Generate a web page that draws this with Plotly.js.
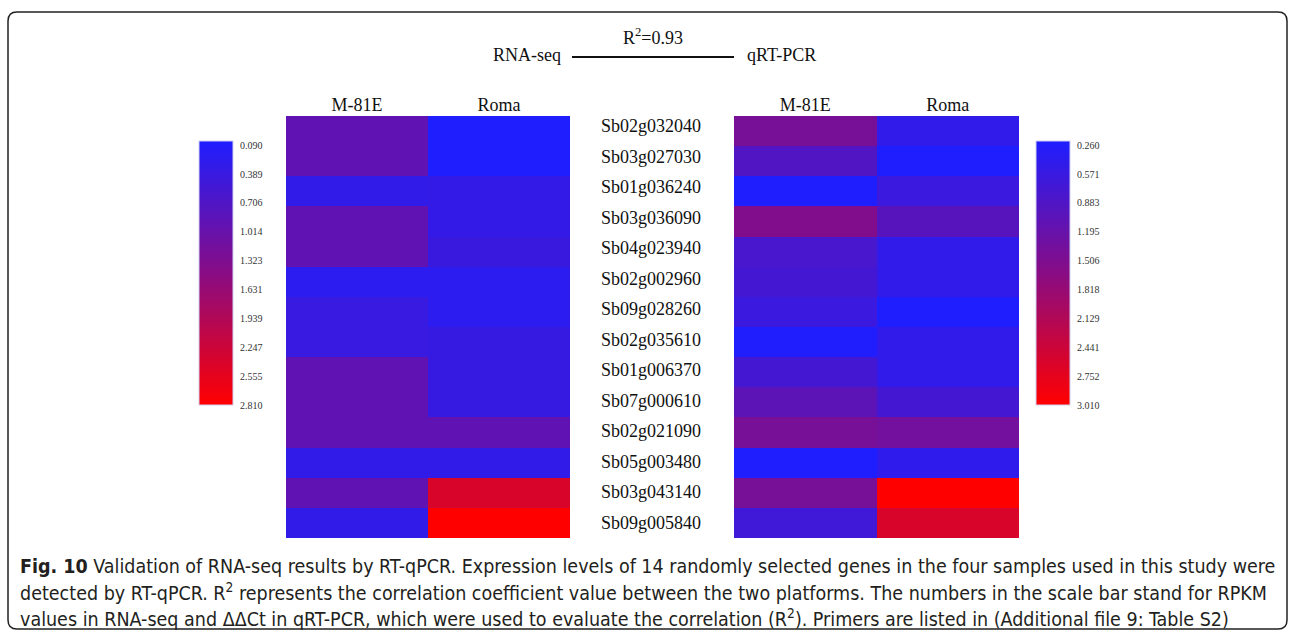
<!DOCTYPE html>
<html>
<head>
<meta charset="utf-8">
<script src="https://cdn.plot.ly/plotly-3.0.1.min.js"></script>
<style>html,body{margin:0;padding:0;background:#fff;}#chart{width:1290px;height:635px;}</style>
</head>
<body>
<div id="chart"></div>
<script>
// ---- data ----
const genes = ['Sb02g032040','Sb03g027030','Sb01g036240','Sb03g036090','Sb04g023940','Sb02g002960','Sb09g028260','Sb02g035610','Sb01g006370','Sb07g000610','Sb02g021090','Sb05g003480','Sb03g043140','Sb09g005840'];
const samples = ['M-81E','Roma'];
const rnaM81E = [0.94,0.94,0.33,0.94,0.94,0.27,0.43,0.43,0.94,0.94,0.94,0.33,0.94,0.33];
const rnaRoma = [0.09,0.09,0.36,0.36,0.45,0.27,0.27,0.41,0.41,0.41,0.94,0.33,2.38,2.81];
const qpcrM81E = [1.42,0.93,0.26,1.55,0.81,0.75,0.63,0.28,0.75,1.06,1.42,0.27,1.42,0.70];
const qpcrRoma = [0.50,0.26,0.63,1.00,0.50,0.50,0.26,0.50,0.50,0.75,1.36,0.48,3.01,2.57];
const rnaTicks = ['0.090','0.389','0.706','1.014','1.323','1.631','1.939','2.247','2.555','2.810'];
const qpcrTicks = ['0.260','0.571','0.883','1.195','1.506','1.818','2.129','2.441','2.752','3.010'];
const rnaRange = [0.09, 2.81];
const qpcrRange = [0.26, 3.01];
const captionLines = [
  '<b>Fig. 10</b> Validation of RNA-seq results by RT-qPCR. Expression levels of 14 randomly selected genes in the four samples used in this study were',
  'detected by RT-qPCR. R<sup>2</sup> represents the correlation coefficient value between the two platforms. The numbers in the scale bar stand for RPKM',
  'values in RNA-seq and \u0394\u0394Ct in qRT-PCR, which were used to evaluate the correlation (R<sup>2</sup>). Primers are listed in (Additional file 9: Table S2)'
];

// ---- helpers ----
const W = 1290, H = 635;
const px = x => x / W;
const py = y => 1 - y / H;
const serif = 'Liberation Serif, Times New Roman, serif';
const scale = [[0,'rgb(255,0,0)'],[0.5,'rgb(136,12,132)'],[1,'rgb(30,30,255)']];

function zmat(a, b) { return genes.map((g, i) => [-a[i], -b[i]]); }
function tickPos(labels, range) {
  const n = labels.length;
  const top = range[0] + (range[1] - range[0]) * 0.016;  // small inset at the top of the bar
  return labels.map((_, i) => -(top + (range[1] - top) * i / (n - 1)));
}

function heat(a, b, range, ticks, xa, ya, cbx) {
  return {
    type: 'heatmap', x: samples, y: genes, z: zmat(a, b),
    xaxis: xa, yaxis: ya,
    zmin: -range[1], zmax: -range[0],
    colorscale: scale, hoverinfo: 'skip',
    colorbar: {
      x: cbx, xanchor: 'left', xref: 'paper', y: py(141), yanchor: 'top', yref: 'paper',
      len: 264, lenmode: 'pixels', thickness: 34, thicknessmode: 'pixels',
      xpad: 0, ypad: 0, outlinewidth: 1, outlinecolor: '#d0d0f0',
      tickvals: tickPos(ticks, range), ticktext: ticks, ticks: 'outside', ticklen: 5,
      tickcolor: 'rgba(0,0,0,0)', tickwidth: 0,
      tickfont: {family: serif, size: 10, color: '#333'}
    }
  };
}

const traces = [
  heat(rnaM81E, rnaRoma, rnaRange, rnaTicks, 'x', 'y', px(199)),
  heat(qpcrM81E, qpcrRoma, qpcrRange, qpcrTicks, 'x2', 'y2', px(1036))
];

const xcommon = {side: 'top', type: 'category', showgrid: false, zeroline: false, ticks: '', showline: false,
  tickfont: {family: serif, size: 18, color: '#111'}, fixedrange: true};
const ycommon = {type: 'category', autorange: 'reversed', showticklabels: false, showgrid: false, zeroline: false,
  ticks: '', domain: [py(538), py(116)], fixedrange: true};

const annotations = [];
const labTop = 111, labBot = 538;
genes.forEach((g, i) => annotations.push({xref: 'paper', yref: 'paper', x: px(651),
  y: py(labTop + (i + 0.5) * (labBot - labTop) / genes.length), text: g, showarrow: false,
  xanchor: 'center', yanchor: 'middle', font: {family: serif, size: 18, color: '#111'}}));
function titleAnn(x, y, t) {
  return {xref: 'paper', yref: 'paper', x: px(x), y: py(y), text: t, showarrow: false,
    xanchor: 'center', yanchor: 'middle', font: {family: serif, size: 18, color: '#111'}};
}
annotations.push(titleAnn(527, 55, 'RNA-seq'));
annotations.push(titleAnn(781, 55, 'qRT-PCR'));
annotations.push(titleAnn(653, 37, 'R<sup>2</sup>=0.93'));
const capY = [566, 592, 618];
captionLines.forEach((t, i) => annotations.push({xref: 'paper', yref: 'paper', x: px(18), y: py(capY[i]),
  xanchor: 'left', yanchor: 'middle', text: t, showarrow: false, align: 'left',
  font: {family: 'Liberation Sans Narrow, DejaVu Sans Condensed, Arial Narrow, sans-serif', size: 19.5, color: '#231f20'}}));

// rounded frame
const fx0 = 8, fy0 = 12, fx1 = 1287, fy1 = 629, r = 9;
const framePath = `M ${px(fx0 + r)} ${py(fy0)} L ${px(fx1 - r)} ${py(fy0)} Q ${px(fx1)} ${py(fy0)} ${px(fx1)} ${py(fy0 + r)} ` +
  `L ${px(fx1)} ${py(fy1 - r)} Q ${px(fx1)} ${py(fy1)} ${px(fx1 - r)} ${py(fy1)} L ${px(fx0 + r)} ${py(fy1)} ` +
  `Q ${px(fx0)} ${py(fy1)} ${px(fx0)} ${py(fy1 - r)} L ${px(fx0)} ${py(fy0 + r)} Q ${px(fx0)} ${py(fy0)} ${px(fx0 + r)} ${py(fy0)} Z`;

const layout = {
  width: W, height: H, margin: {l: 0, r: 0, t: 0, b: 0},
  paper_bgcolor: '#fff', plot_bgcolor: '#fff', showlegend: false,
  xaxis: Object.assign({}, xcommon, {domain: [px(286), px(570)], anchor: 'y'}),
  yaxis: Object.assign({}, ycommon, {anchor: 'x'}),
  xaxis2: Object.assign({}, xcommon, {domain: [px(734), px(1019)], anchor: 'y2'}),
  yaxis2: Object.assign({}, ycommon, {anchor: 'x2'}),
  annotations: annotations,
  shapes: [
    {type: 'line', xref: 'paper', yref: 'paper', x0: px(572), x1: px(734), y0: py(57), y1: py(57),
      line: {color: '#111', width: 2}},
    {type: 'path', xref: 'paper', yref: 'paper', path: framePath, line: {color: '#222', width: 1.5}}
  ]
};

Plotly.newPlot('chart', traces, layout, {displayModeBar: false, staticPlot: true});
</script>
</body>
</html>
